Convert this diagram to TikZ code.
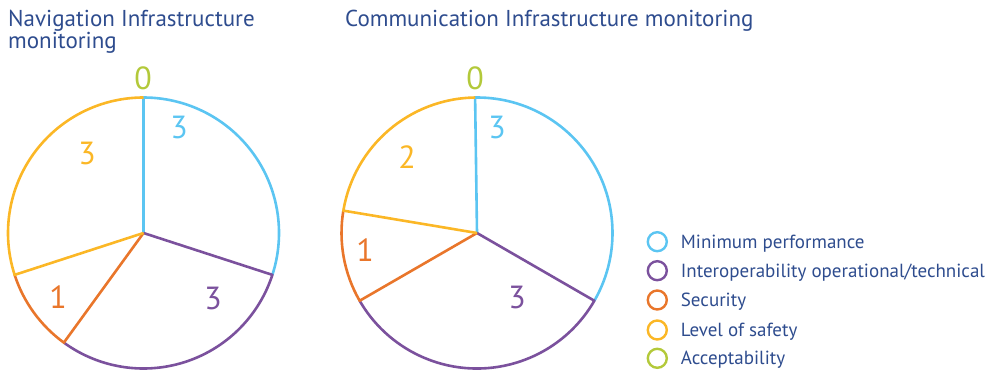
\documentclass[tikz,border=0pt]{standalone}
\usepackage{fontspec}
\setmainfont{PT Sans}
\definecolor{cblue}{HTML}{5BC5F2}
\definecolor{cpurple}{HTML}{7B519D}
\definecolor{corange}{HTML}{E9762B}
\definecolor{cyellow}{HTML}{FBB726}
\definecolor{cgreen}{HTML}{B3C93A}
\definecolor{ctitle}{HTML}{2E4C8E}
\begin{document}
\begin{tikzpicture}[x=1pt,y=1pt,
  seg/.style={line width=2.6pt, line join=round},
  title/.style={anchor=base west, inner sep=0, text=ctitle, font=\fontsize{23}{26}\selectfont},
  num/.style={inner sep=0, font=\fontsize{32}{34}\selectfont},
  legcirc/.style={circle, line width=2.4pt, minimum size=19pt, inner sep=0},
  legtext/.style={anchor=base west, inner sep=0, text=ctitle, font=\fontsize{19}{21}\selectfont}]
\useasboundingbox (0,0) rectangle (990,378);
% ---- titles
\node[title] (tA1) at (8,351.3) {Navigation Infrastructure};
\node[title] (tA2) at (8,329.7) {monitoring};
\node[title] (tB) at (345,351.3) {Communication Infrastructure monitoring};
% ---- left pie
\def\R{135.5}
\coordinate (L) at (143.5,145);
\draw[seg, cblue] (L) -- ++(90:\R) arc[start angle=90, end angle=-18, radius=\R];
\draw[seg, cpurple] (L) -- ++(-18:\R) arc[start angle=-18, end angle=-126, radius=\R];
\draw[seg, corange] (L) -- ++(-126:\R) arc[start angle=-126, end angle=-162, radius=\R];
\draw[seg, cyellow] (L) -- ++(198:\R) arc[start angle=198, end angle=90, radius=\R];
\node[num, text=cgreen] (lA0) at (143,300) {0};
\node[num, text=cblue] (lA1) at (179,251) {3};
\node[num, text=cyellow] (lA4) at (87,225) {3};
\node[num, text=corange] (lA3) at (58,81) {1};
\node[num, text=cpurple] (lA2) at (213,80) {3};
% ---- right pie
\coordinate (C) at (477,145);
\draw[seg, cblue] (C) -- ++(90.8:\R) arc[start angle=90.8, end angle=-30, radius=\R];
\draw[seg, cpurple] (C) -- ++(-30:\R) arc[start angle=-30, end angle=-150, radius=\R];
\draw[seg, corange] (C) -- ++(-150:\R) arc[start angle=-150, end angle=-189.5, radius=\R];
\draw[seg, cyellow] (C) -- ++(170.5:\R) arc[start angle=170.5, end angle=90.8, radius=\R];
\node[num, text=cgreen] (lB0) at (475,300) {0};
\node[num, text=cblue] (lB1) at (497,251) {3};
\node[num, text=cyellow] (lB4) at (407,221) {2};
\node[num, text=corange] (lB3) at (365,128) {1};
\node[num, text=cpurple] (lB2) at (517,81) {3};
% ---- legend
\node[legcirc, draw=cblue] (k1) at (657.3,136.3) {};
\node[legcirc, draw=cpurple] (k2) at (657.3,107.3) {};
\node[legcirc, draw=corange] (k3) at (657.3,78) {};
\node[legcirc, draw=cyellow] (k4) at (657.3,48) {};
\node[legcirc, draw=cgreen] (k5) at (657.3,19.7) {};
\node[legtext] (t1) at (680.7,129.7) {Minimum performance};
\node[legtext] (t2) at (680.7,100.7) {Interoperability operational/technical};
\node[legtext] (t3) at (680.7,71.4) {Security};
\node[legtext] (t4) at (680.7,41.4) {Level of safety};
\node[legtext] (t5) at (680.7,13.1) {Acceptability};
\end{tikzpicture}
\end{document}
